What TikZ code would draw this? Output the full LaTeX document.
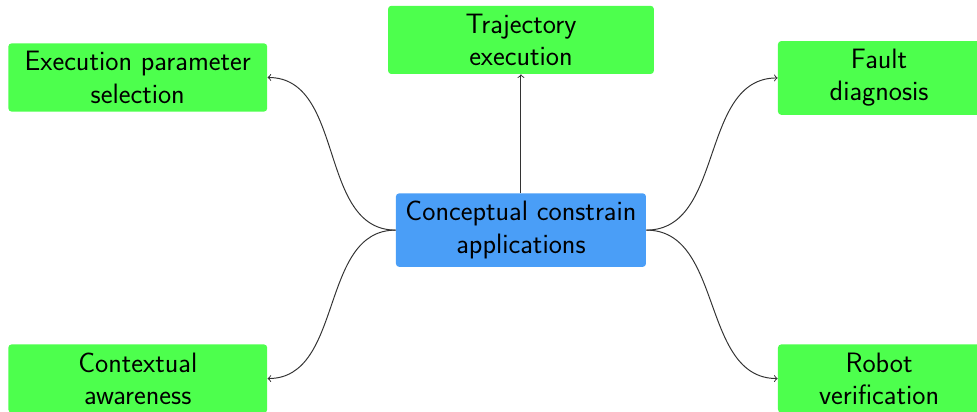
\documentclass[tikz,border=0pt]{standalone}
\renewcommand{\familydefault}{\sfdefault}
\definecolor{leafgreen}{RGB}{77,255,77}
\definecolor{rootblue}{RGB}{74,158,247}
\tikzset{
  leaf/.style={rectangle,rounded corners=2pt,fill=leafgreen,align=center,
    font=\fontsize{17.2}{19.8}\selectfont,inner ysep=5pt},
  root/.style={leaf,fill=rootblue},
  link/.style={->,black!80,semithick}
}
\begin{document}
\begin{tikzpicture}
      \useasboundingbox (-11.23,-3.90) rectangle (9.83,4.96);
      \node[root,minimum width=5.39cm] (root) at
      (0,0) {Conceptual constrain\\applications};
      \node[leaf,minimum width=5.73cm] (traj) at
      (0,4.10) {Trajectory\\execution};
      \node[leaf,minimum width=5.58cm] (param) at
      (-8.26,3.29) {Execution parameter\\selection};
      \node[leaf,minimum width=5.58cm] (context) at
      (-8.26,-3.20) {Contextual\\awareness};
      \node[leaf,minimum width=4.36cm] (fault) at
      (7.72,3.28) {Fault\\diagnosis};
      \node[leaf,minimum width=4.36cm] (verif) at
      (7.72,-3.20) {Robot\\verification};
      \draw[link] (root) to (traj);
      \draw[link] (root.west) to[out=180,in=0] (param.east);
      \draw[link] (root.west) to[out=180,in=0] (context.east);
      \draw[link] (root.east) to[out=0,in=180] (fault.west);
      \draw[link] (root.east) to[out=0,in=180] (verif.west);
    \end{tikzpicture}
\end{document}
